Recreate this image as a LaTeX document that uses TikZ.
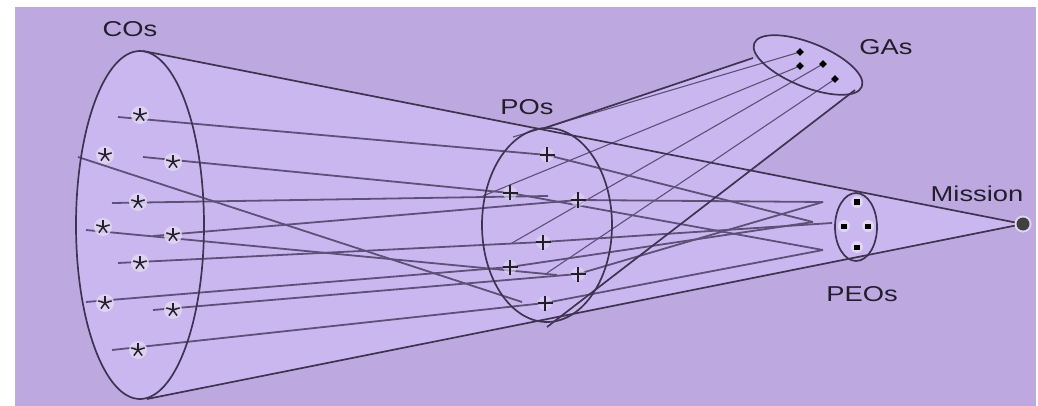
\documentclass[tikz,border=0pt]{standalone}
\usepackage{fontspec}
\setmainfont{Liberation Sans}
\usepackage{graphicx}
\definecolor{bg}{HTML}{BDA9E0}
\definecolor{conefill}{HTML}{CBB7F0}
\definecolor{edge}{HTML}{3F3352}
\definecolor{wire}{HTML}{5E5078}
\definecolor{ink}{HTML}{231E2C}
\definecolor{halo}{HTML}{E2D7F2}
\tikzset{
  edgeline/.style={draw=edge, line width=1.7pt},
  wire/.style={draw=wire, line width=1.8pt},
  thinwire/.style={draw=wire, line width=1.1pt},
  lbl/.style={text=ink, inner sep=0pt, font=\fontsize{21.5}{25}\selectfont},
  pics/asterisk/.style={code={
    \fill[halo, opacity=0.85] (0,0) circle (9pt);
    \foreach \a in {90,162,18,234,306} \draw[ink, line width=1.5pt] (0,0) -- (\a:7pt);
  }},
  pics/plusmark/.style={code={
    \fill[halo, opacity=0.6] (0,0) circle (7pt);
    \draw[ink, line width=1.2pt] (-7.5pt,0) -- (7.5pt,0) (0,-7.5pt) -- (0,7.5pt);
  }},
  pics/diamondmark/.style={code={
    \fill[black] (0,3.8pt) -- (3.8pt,0) -- (0,-3.8pt) -- (-3.8pt,0) -- cycle;
  }},
  pics/squaremark/.style={code={
    \fill[halo] (0,0) circle (6pt);
    \fill[black] (-3pt,-2.5pt) rectangle (3pt,2.5pt);
  }},
}
\newcommand{\lab}[1]{\scalebox{1.27}[1]{#1}}
\begin{document}
\begin{tikzpicture}[x=1pt,y=-1pt]
\useasboundingbox (0,0) rectangle (1038,406);
\fill[white] (0,0) rectangle (1038,406);
\fill[bg] (15,7) rectangle (1036,406);

% key coordinates
\coordinate (coTop) at (143,51);
\coordinate (coBot) at (147,399);
\coordinate (mission) at (1023,224);
\coordinate (poTop) at (545,128);
\coordinate (poBot) at (547,327);
\coordinate (gaL) at (753,58);
\coordinate (gaR) at (855,90);

% fills
\fill[conefill] (coTop) -- (mission) -- (coBot) -- cycle;
\fill[conefill] (140,225) ellipse [x radius=64pt, y radius=174pt];
\fill[conefill] (poTop) -- (gaL) -- (gaR) -- (poBot) -- cycle;
\fill[conefill, rotate around={-22:(808,65)}] (808,65) ellipse [x radius=58pt, y radius=22pt];

% course objectives
\coordinate (s1) at (140,115);
\coordinate (s2) at (105,155);
\coordinate (s3) at (173,162);
\coordinate (s4) at (138,202);
\coordinate (s5) at (103,227);
\coordinate (s6) at (173,235);
\coordinate (s7) at (140,263);
\coordinate (s8) at (105,303);
\coordinate (s9) at (173,310);
\coordinate (s10) at (138,350);
\coordinate (a1) at (118,117);
\coordinate (a2) at (78,157);
\coordinate (a3) at (143,157);
\coordinate (a4) at (112,203);
\coordinate (a5) at (86,230);
\coordinate (a6) at (153,236);
\coordinate (a7) at (118,263);
\coordinate (a8) at (86,302);
\coordinate (a9) at (153,310);
\coordinate (a10) at (112,350);

% program outcomes
\coordinate (p1) at (547,155);
\coordinate (p2) at (510,193);
\coordinate (p3) at (578,200);
\coordinate (p4) at (543,242);
\coordinate (p5) at (510,267);
\coordinate (p6) at (578,274);
\coordinate (p7) at (545,303);

\coordinate (e1) at (813,222);
\coordinate (e2) at (823,202);
\coordinate (e3) at (823,250);
\coordinate (e4) at (832,223);
\coordinate (b4) at (548,196);
\coordinate (b5) at (557,275);
\coordinate (b2) at (522,302);
\coordinate (c1) at (513,137);
\coordinate (c2) at (483,196);
\coordinate (c3) at (512,243);
\coordinate (c4) at (547,273);

\coordinate (g1) at (800,52);
\coordinate (g2) at (800,66);
\coordinate (g3) at (823,64);
\coordinate (g4) at (835,79);

\coordinate (q1) at (857,202);
\coordinate (q2) at (844,226);
\coordinate (q3) at (868,226);
\coordinate (q4) at (857,247);

% CO -> PO -> PEO wires
\draw[wire] (a1) -- (p1) -- (e1);
\draw[wire] (a2) -- (b2);
\draw[wire] (a3) -- (p2) -- (e3);
\draw[wire] (a4) -- (b4);
\draw[wire] (a5) -- (b5);
\draw[wire] (a6) -- (p3) -- (e2);
\draw[wire] (a7) -- (p4) -- (e4);
\draw[wire] (a8) -- (p5) -- (e1);
\draw[wire] (a9) -- (p6) -- (e2);
\draw[wire] (a10) -- (p7) -- (e3);

% GA wires
\draw[thinwire] (g1) -- (c1);
\draw[thinwire] (g2) -- (c2);
\draw[thinwire] (g3) -- (c3);
\draw[thinwire] (g4) -- (c4);

% outlines
\draw[edgeline] (coTop) -- (mission) -- (coBot);
\draw[edgeline] (140,225) ellipse [x radius=64pt, y radius=174pt];
\draw[edgeline] (547,225) ellipse [x radius=65pt, y radius=97pt];
\draw[edgeline] (856,227) ellipse [x radius=21pt, y radius=34pt];
\draw[edgeline] (poTop) -- (gaL);
\draw[edgeline] (poBot) -- (gaR);
\draw[edgeline, rotate around={-22:(808,65)}] (808,65) ellipse [x radius=58pt, y radius=22pt];

% marks
\foreach \n in {s1,s2,s3,s4,s5,s6,s7,s8,s9,s10} \pic at (\n) {asterisk};
\foreach \n in {p1,p2,p3,p4,p5,p6,p7} \pic at (\n) {plusmark};
\foreach \n in {g1,g2,g3,g4} \pic at (\n) {diamondmark};
\foreach \n in {q1,q2,q3,q4} \pic at (\n) {squaremark};
\fill[halo] (mission) circle (8.5pt);
\fill[black!75] (mission) circle (6.5pt);

% labels
\node[lbl] (lco) at (130,29) {\lab{COs}};
\node[lbl] (lpo) at (527,107) {\lab{POs}};
\node[lbl] (lga) at (886,47) {\lab{GAs}};
\node[lbl] (lmi) at (977,194) {\lab{Mission}};
\node[lbl] (lpe) at (862,294) {\lab{PEOs}};
\end{tikzpicture}
\end{document}
